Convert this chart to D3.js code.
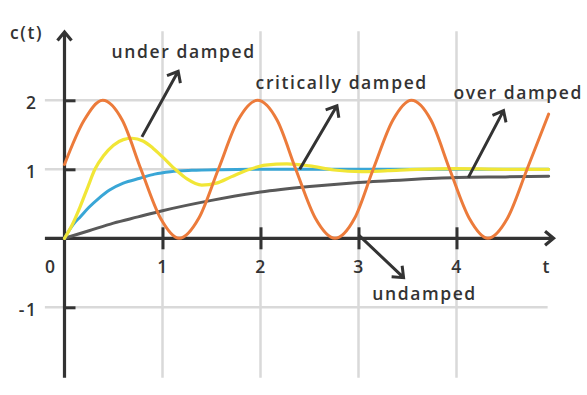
<!DOCTYPE html>
<html>
<head>
<meta charset="utf-8">
<script src="https://cdn.jsdelivr.net/npm/d3@7"></script>
<style>
  body { margin: 0; background: #fff; }
  text { font-family: "Open Sans", "Noto Sans", sans-serif; fill: #333; letter-spacing: 1.6px; }
</style>
</head>
<body>
<div id="chart"></div>
<script>
// values: [t, c(t)]
let undamped = [
  [0, 1.07], [0.2, 1.71], [0.39, 2], [0.59, 1.71], [0.78, 1], [0.98, 0.29],
  [1.17, 0], [1.37, 0.29], [1.57, 1], [1.77, 1.71], [1.97, 2], [2.17, 1.71],
  [2.36, 1], [2.56, 0.29], [2.76, 0], [2.96, 0.29], [3.15, 1], [3.35, 1.71],
  [3.54, 2], [3.74, 1.71], [3.93, 1], [4.13, 0.29], [4.32, 0], [4.52, 0.29],
  [4.72, 1], [4.94, 1.8]
];
let underDamped = [
  [0, 0], [0.08, 0.2], [0.16, 0.46], [0.24, 0.75], [0.31, 1], [0.4, 1.2],
  [0.5, 1.35], [0.6, 1.43], [0.69, 1.45], [0.8, 1.41], [0.9, 1.31], [1, 1.18],
  [1.13, 1], [1.25, 0.86], [1.4, 0.77], [1.55, 0.8], [1.7, 0.89], [1.89, 1],
  [2.05, 1.06], [2.27, 1.08], [2.5, 1.05], [2.75, 0.99], [3.03, 0.965],
  [3.3, 0.98], [3.6, 1], [4, 1.01], [4.5, 1], [4.94, 1]
];
let criticallyDamped = [
  [0, 0], [0.05, 0.12], [0.1, 0.22], [0.16, 0.31], [0.25, 0.45], [0.35, 0.58],
  [0.46, 0.7], [0.6, 0.8], [0.77, 0.87], [0.92, 0.93], [1.08, 0.965],
  [1.3, 0.985], [1.6, 0.995], [2, 1], [3, 1], [4, 1], [4.94, 1]
];
let overDamped = [
  [0, 0], [0.25, 0.11], [0.5, 0.22], [0.75, 0.31], [1, 0.4], [1.5, 0.55],
  [2, 0.67], [2.5, 0.75], [3, 0.81], [3.5, 0.85], [4, 0.88], [4.5, 0.89],
  [4.94, 0.9]
];

let xTicks = [1, 2, 3, 4];
let yTicks = [-1, 1, 2];

// label text, arrow tail and head, label start (data units)
let notes = [
  {text: 'under damped', from: [0.79, 1.47], to: [1.16, 2.42], at: [0.48, 2.62]},
  {text: 'critically damped', from: [2.4, 1.0], to: [2.78, 1.92], at: [1.95, 2.17]},
  {text: 'over damped', from: [4.12, 0.88], to: [4.48, 1.85], at: [3.97, 2.02]},
  {text: 'undamped', from: [3.0, 0.05], to: [3.46, -0.57], at: [3.14, -0.9]}
];

let width = 587;
let height = 395;

let x = d3.scaleLinear().domain([0, 5]).range([64.5, 554.5]);
let y = d3.scaleLinear().domain([0, 2]).range([238.3, 100.3]);

let svg = d3.select('#chart')
  .append('svg')
  .attr('width', width)
  .attr('height', height);

// grid
svg.append('g')
  .selectAll('line')
  .data(yTicks)
  .enter()
  .append('line')
  .attr('x1', x(-0.2))
  .attr('x2', x(4.93))
  .attr('y1', d => y(d))
  .attr('y2', d => y(d))
  .attr('stroke', '#d9d9d9')
  .attr('stroke-width', 2.5);

svg.append('g')
  .selectAll('line')
  .data(xTicks)
  .enter()
  .append('line')
  .attr('x1', d => x(d))
  .attr('x2', d => x(d))
  .attr('y1', y(3))
  .attr('y2', y(-2.02))
  .attr('stroke', '#d9d9d9')
  .attr('stroke-width', 2.5);

// axes
let xAxis = d3.axisBottom(x)
  .tickValues(xTicks)
  .tickSize(11)
  .tickFormat(d => String(d));
let yAxis = d3.axisLeft(y)
  .tickValues(yTicks)
  .tickSize(11)
  .tickPadding(16)
  .tickFormat(d => String(d));

let gx = svg.append('g')
  .attr('transform', 'translate(0,' + y(0) + ')')
  .call(xAxis);
let gy = svg.append('g')
  .attr('transform', 'translate(' + x(0) + ',0)')
  .call(yAxis);

[gx, gy].forEach(g => {
  g.select('.domain').remove();
  g.selectAll('text')
    .attr('fill', '#333')
    .style('font-size', '17.5px')
    .style('font-weight', 600);
});
gx.selectAll('.tick line')
  .attr('y1', -11)
  .attr('stroke', '#333')
  .attr('stroke-width', 3);
gx.selectAll('.tick text').attr('y', 22);
gy.selectAll('.tick line')
  .attr('x2', 11)
  .attr('stroke', '#333')
  .attr('stroke-width', 3);
gy.selectAll('.tick text').attr('dy', '0.45em');

let axisColor = '#333';
let arrowPath = (x0, y0, x1, y1, size) => {
  let a = Math.atan2(y1 - y0, x1 - x0);
  let s = Math.PI * 0.78;
  return 'M' + x0 + ',' + y0 + 'L' + x1 + ',' + y1 +
    'M' + (x1 + size * Math.cos(a + s)) + ',' + (y1 + size * Math.sin(a + s)) +
    'L' + x1 + ',' + y1 +
    'L' + (x1 + size * Math.cos(a - s)) + ',' + (y1 + size * Math.sin(a - s));
};

svg.append('path')
  .attr('d', arrowPath(x(-0.2), y(0), x(4.99), y(0), 11))
  .attr('fill', 'none')
  .attr('stroke', axisColor)
  .attr('stroke-width', 3.2);
svg.append('path')
  .attr('d', arrowPath(x(0), y(-2.02), x(0), y(2.99), 11))
  .attr('fill', 'none')
  .attr('stroke', axisColor)
  .attr('stroke-width', 3.2);

// curves
let line = d3.line()
  .x(d => x(d[0]))
  .y(d => y(d[1]))
  .curve(d3.curveMonotoneX);

let series = [
  {data: overDamped, color: '#595959', w: 3},
  {data: criticallyDamped, color: '#39a6d6', w: 3},
  {data: underDamped, color: '#f1e636', w: 3.2},
  {data: undamped, color: '#ec7b3b', w: 3}
];

svg.append('g')
  .selectAll('path')
  .data(series)
  .enter()
  .append('path')
  .attr('d', d => line(d.data))
  .attr('fill', 'none')
  .attr('stroke', d => d.color)
  .attr('stroke-width', d => d.w)
  .attr('stroke-linecap', 'round');

// annotations
svg.append('g')
  .selectAll('path')
  .data(notes)
  .enter()
  .append('path')
  .attr('d', d => arrowPath(x(d.from[0]), y(d.from[1]), x(d.to[0]), y(d.to[1]), 12))
  .attr('fill', 'none')
  .attr('stroke', axisColor)
  .attr('stroke-width', 3);

svg.append('g')
  .selectAll('text')
  .data(notes)
  .enter()
  .append('text')
  .attr('x', d => x(d.at[0]))
  .attr('y', d => y(d.at[1]))
  .style('font-size', '17.5px')
  .style('font-weight', 600)
  .text(d => d.text);

// axis labels
svg.append('text')
  .attr('x', 10)
  .attr('y', 39)
  .style('font-size', '17.5px')
  .style('font-weight', 600)
  .text('c(t)');

svg.append('text')
  .attr('x', x(-0.14))
  .attr('y', y(0) + 22)
  .attr('dy', '0.71em')
  .attr('text-anchor', 'middle')
  .style('font-size', '17.5px')
  .style('font-weight', 600)
  .text('0');

svg.append('text')
  .attr('x', x(4.92))
  .attr('y', y(0) + 22)
  .attr('dy', '0.71em')
  .attr('text-anchor', 'middle')
  .style('font-size', '17.5px')
  .style('font-weight', 600)
  .text('t');
</script>
</body>
</html>
